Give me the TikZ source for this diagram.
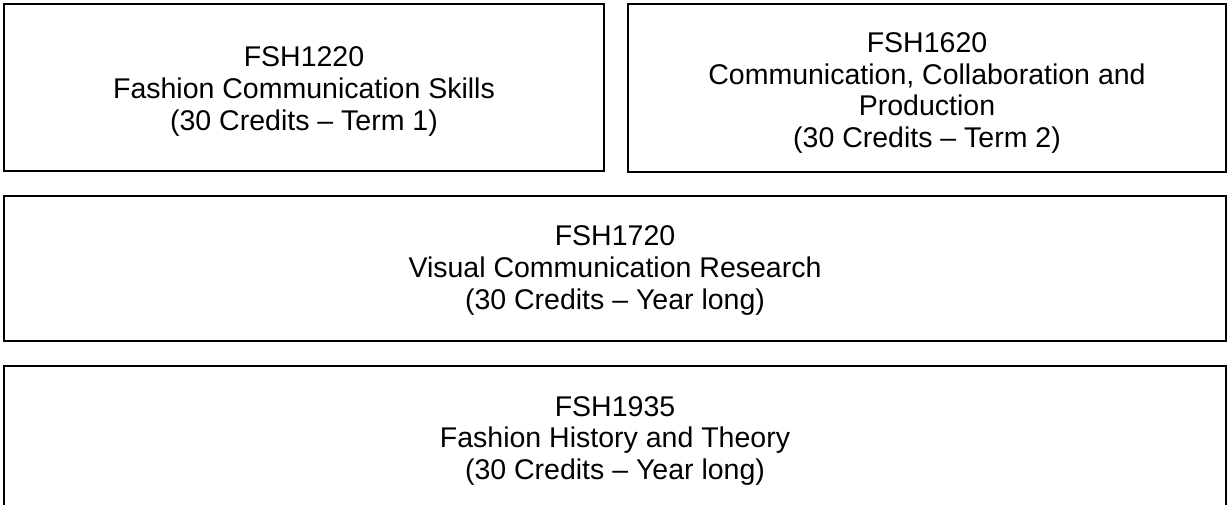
\documentclass[tikz,border=0pt]{standalone}
\usepackage{fontspec}
\setmainfont{Liberation Sans}
\begin{document}
\begin{tikzpicture}[x=0.421pt, y=-0.421pt,
        module/.style = {draw, line width=0.8pt, inner sep=0pt},
        title/.style  = {align=center, inner sep=0pt, font=\fontsize{12}{13.4}\selectfont}]
        \useasboundingbox (0,0) rectangle (1228,505);
        \clip (0,0) rectangle (1228,505);

        % term modules
        \node[module, minimum width={600*0.421pt}, minimum height={167*0.421pt}] (fsh1220) at (304,87.5) {};
        \node[title] (fsh1220 text) at (304,91.5)
            {FSH1220\\Fashion Communication Skills\\(30 Credits \textendash{} Term 1)};

        \node[module, minimum width={598*0.421pt}, minimum height={168*0.421pt}] (fsh1620) at (927,88) {};
        \node[title] (fsh1620 text) at (927,93)
            {FSH1620\\Communication, Collaboration and\\Production\\(30 Credits \textendash{} Term 2)};

        % year long modules
        \node[module, minimum width={1222*0.421pt}, minimum height={145*0.421pt}] (fsh1720) at (615,268.5) {};
        \node[title] (fsh1720 text) at (615,270.5)
            {FSH1720\\Visual Communication Research\\(30 Credits \textendash{} Year long)};

        \node[module, minimum width={1222*0.421pt}, minimum height={148*0.421pt}] (fsh1935) at (615,440) {};
        \node[title] (fsh1935 text) at (615,441)
            {FSH1935\\Fashion History and Theory\\(30 Credits \textendash{} Year long)};
    \end{tikzpicture}
\end{document}
